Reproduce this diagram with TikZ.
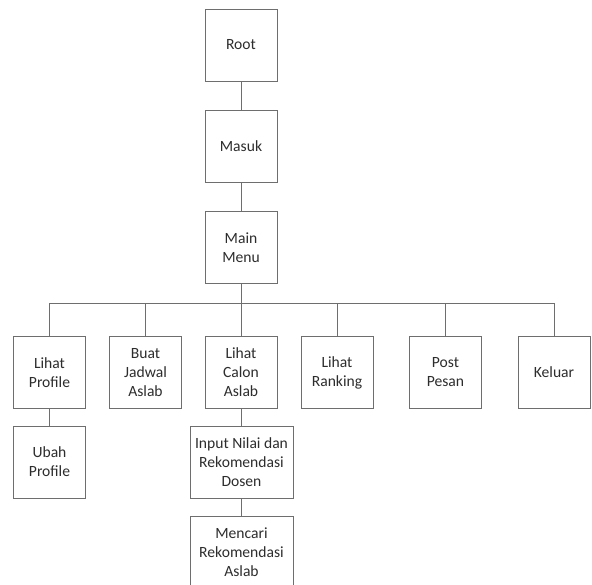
\documentclass[tikz,border=0pt]{standalone}
\usepackage{fontspec}
\setmainfont{Carlito}
\definecolor{linec}{RGB}{110,110,110}
\definecolor{textc}{RGB}{45,45,45}
\begin{document}
\begin{tikzpicture}[x=1pt,y=-1pt,
  box/.style={draw=linec, line width=0.9pt, fill=white, minimum width=72pt, minimum height=72pt,
    inner sep=1pt, align=center, text=textc, font=\fontsize{15.6}{19}\selectfont},
  wbox/.style={box, minimum width=103pt},
  conn/.style={draw=linec, line width=0.9pt}]
\useasboundingbox (0,0) rectangle (592,585);
\node[box] (root) at (241,45) {Root};
\node[box] (masuk) at (241,146) {Masuk};
\node[box] (mm) at (241,247.5) {Main\\Menu};
\node[box] (lp) at (49.5,372.5) {Lihat\\Profile};
\node[box] (bj) at (145.5,372.5) {Buat\\Jadwal\\Aslab};
\node[box] (lc) at (241,372.5) {Lihat\\Calon\\Aslab};
\node[box] (lr) at (337,372.5) {Lihat\\Ranking};
\node[box] (pp) at (445.5,372.5) {Post\\Pesan};
\node[box] (kl) at (554,372.5) {Keluar};
\node[box] (up) at (49.5,462) {Ubah\\Profile};
\node[wbox] (in) at (241.5,462) {Input Nilai dan\\Rekomendasi\\Dosen};
\node[wbox] (mc) at (241.5,552) {Mencari\\Rekomendasi\\Aslab};
\coordinate (bus) at (241,303);
\draw[conn] (root) -- (masuk);
\draw[conn] (masuk) -- (mm);
\draw[conn] (mm) -- (bus);
\draw[conn] (bus) -| (lp.north);
\draw[conn] (bus) -| (bj.north);
\draw[conn] (bus) -- (lc.north);
\draw[conn] (bus) -| (lr.north);
\draw[conn] (bus) -| (pp.north);
\draw[conn] (bus) -| (kl.north);
\draw[conn] (lp) -- (up);
\draw[conn] (lc.south) -- (lc.south |- in.north);
\draw[conn] (in) -- (mc);
\end{tikzpicture}
\end{document}
